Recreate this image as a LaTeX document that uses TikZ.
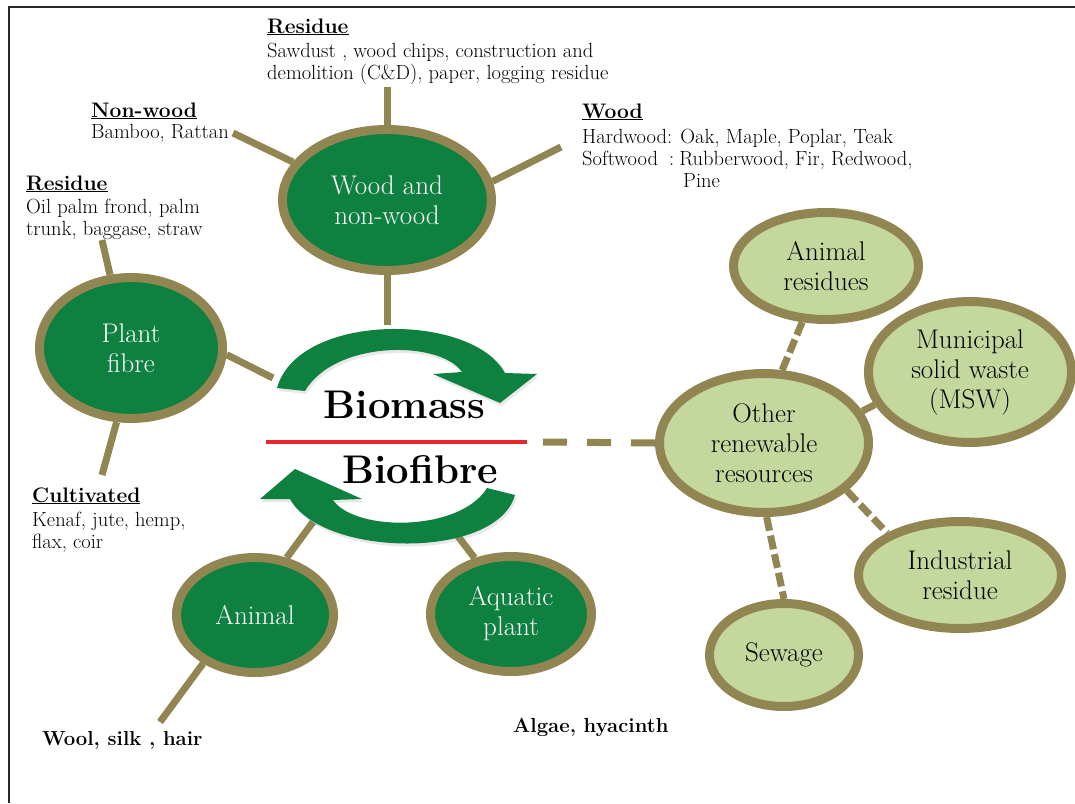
\documentclass[tikz,border=0pt]{standalone}
\usepackage{fontspec}
\usetikzlibrary{shapes.geometric,shadows}
\definecolor{dgreen}{RGB}{14,128,64}
\definecolor{olivec}{RGB}{145,134,82}
\definecolor{lgreen}{RGB}{196,216,158}
\definecolor{redline}{RGB}{232,38,43}
\definecolor{framec}{RGB}{40,40,40}
\pgfdeclarelayer{background}
\pgfsetlayers{background,main}
\tikzset{
  bubble/.style={ellipse, draw=olivec, line width=9pt, inner sep=0pt, align=center,
    font=\fontsize{27}{30}\selectfont,
    drop shadow={shadow xshift=1.5pt, shadow yshift=-3pt, opacity=0.18}},
  darkbubble/.style={bubble, fill=dgreen, text=white},
  lightbubble/.style={bubble, fill=lgreen, text=black},
  conn/.style={draw=olivec, line width=7pt},
  dconn/.style={conn, dash pattern=on 14pt off 5pt},
  mainda/.style={conn, dash pattern=on 24pt off 20pt},
  lbl/.style={anchor=base west, inner sep=0pt, font=\fontsize{20.5}{22}\selectfont},
  boldlbl/.style={anchor=base west, inner sep=0pt, font=\fontsize{20.3}{22}\selectfont\bfseries},
  bigword/.style={anchor=base, inner sep=0pt, font=\fontsize{40}{44}\selectfont\bfseries},
  cyclearrow/.style={fill=dgreen, drop shadow={shadow xshift=1.5pt, shadow yshift=-3pt, opacity=0.18}},
}
\newcommand{\hd}[1]{{\fontsize{21}{22}\selectfont\bfseries\underline{#1}}}
\begin{document}
\begin{tikzpicture}[x=1pt,y=-1pt]
\useasboundingbox (0,0) rectangle (1075,803);
% frame
\coordinate (fBL) at (9,803);
\coordinate (fTL) at (9,7);
\coordinate (fTR) at (1075,7);
\draw[framec, line width=2pt] (fBL) -- (fTL) -- (fTR);

% cycle arrows
\fill[cyclearrow] (277,388) .. controls (298,312) and (472,312) .. (505,373)
  -- (537,374) -- (500,403) -- (433,374) -- (462,372)
  .. controls (440,340) and (335,340) .. (305,391) -- cycle;
\fill[cyclearrow] (515,495) .. controls (497,560) and (323,558) .. (290,499)
  -- (260,499) -- (295,469) -- (362,499) -- (333,500)
  .. controls (355,532) and (460,532) .. (487,488) -- cycle;

% centre words
\node[bigword] (biomass) at (404.5,418) {Biomass};
\node[bigword] (biofibre) at (420,483) {Biofibre};
\coordinate (redL) at (266,442);
\coordinate (redR) at (527,442);
\draw[redline, line width=4pt] (redL) -- (redR);
\coordinate (bioEnd) at (543,442);

% bubbles
\node[darkbubble, minimum width=209pt, minimum height=141pt] (wood) at (387,200) {Wood and\\non-wood};
\node[darkbubble, minimum width=183pt, minimum height=141pt] (plant) at (131,348) {Plant\\fibre};
\node[darkbubble, minimum width=157pt, minimum height=115pt] (animal) at (255,615) {Animal};
\node[darkbubble, minimum width=161pt, minimum height=115pt] (aquatic) at (511,614) {Aquatic\\plant};
\node[lightbubble, minimum width=209pt, minimum height=139pt] (other) at (764,443) {Other\\renewable\\resources};
\node[lightbubble, minimum width=185pt, minimum height=107pt] (animres) at (826,266) {Animal\\residues};
\node[lightbubble, minimum width=203pt, minimum height=141pt] (msw) at (970,372) {Municipal\\solid waste\\(MSW)};
\node[lightbubble, minimum width=203pt, minimum height=107pt] (indus) at (960,575) {Industrial\\residue};
\node[lightbubble, minimum width=149pt, minimum height=103pt] (sewage) at (784,655) {Sewage};

% labels
\node[lbl] (topres) at (267,33) {\begin{tabular}[t]{@{}l@{}}\hd{Residue}\\[2pt]
Sawdust , wood chips, construction and\\
demolition (C\&D), paper, logging residue\end{tabular}};
\node[lbl] (nonwood) at (91,117) {\begin{tabular}[t]{@{}l@{}}\hd{Non-wood}\\[-1pt]
Bamboo, Rattan\end{tabular}};
\node[lbl] (leftres) at (26,190) {\begin{tabular}[t]{@{}l@{}}\hd{Residue}\\[1pt]
Oil palm frond, palm\\
trunk, baggase, straw\end{tabular}};
\node[lbl] (woodlbl) at (582,118) {\begin{tabular}[t]{@{}l@{}}\hd{Wood}\\[3pt]
Hardwood: Oak, Maple, Poplar, Teak\\
\makebox[87pt][l]{Softwood}:\hspace{5pt}Rubberwood, Fir, Redwood,\\
\hspace{101pt}Pine\end{tabular}};
\node[lbl] (cultiv) at (32,502) {\begin{tabular}[t]{@{}l@{}}\hd{Cultivated}\\[2pt]
Kenaf, jute, hemp,\\
flax, coir\end{tabular}};
\node[boldlbl] (wool) at (42,745) {Wool, silk , hair};
\node[boldlbl] (algae) at (513,732) {Algae, hyacinth};

% free ends of connectors
\coordinate (cWoodTop) at (387,87);
\coordinate (cNonwood) at (233,133);
\coordinate (cWood) at (561,147);
\coordinate (cWoodBot) at (387,325);
\coordinate (cPlantTop) at (102,240);
\coordinate (cPlantArr) at (273,378);
\coordinate (cPlantBot) at (102,475);
\coordinate (cAnimArr) at (313,522);
\coordinate (cAnimBot) at (160,722);
\coordinate (cAquaArr) at (457,535);

\begin{pgfonlayer}{background}
\draw[conn] (wood.north) -- (cWoodTop);
\draw[conn] (wood.158) -- (cNonwood);
\draw[conn] (wood.10) -- (cWood);
\draw[conn] (wood.south) -- (cWoodBot);
\draw[conn] (plant.106) -- (cPlantTop);
\draw[conn] (plant.-4) -- (cPlantArr);
\draw[conn] (plant.259) -- (cPlantBot);
\draw[conn] (animal.61) -- (cAnimArr);
\draw[conn] (animal.223) -- (cAnimBot);
\draw[conn] (aquatic.123) -- (cAquaArr);
\draw[mainda] (bioEnd) -- (other.west);
\draw[dconn] (other.76) -- (animres.247);
\draw[conn] (other.18) -- (msw.199);
\draw[dconn] (other.-30) -- (indus.150);
\draw[dconn] (other.272) -- (sewage.north);
\end{pgfonlayer}
\end{tikzpicture}
\end{document}
